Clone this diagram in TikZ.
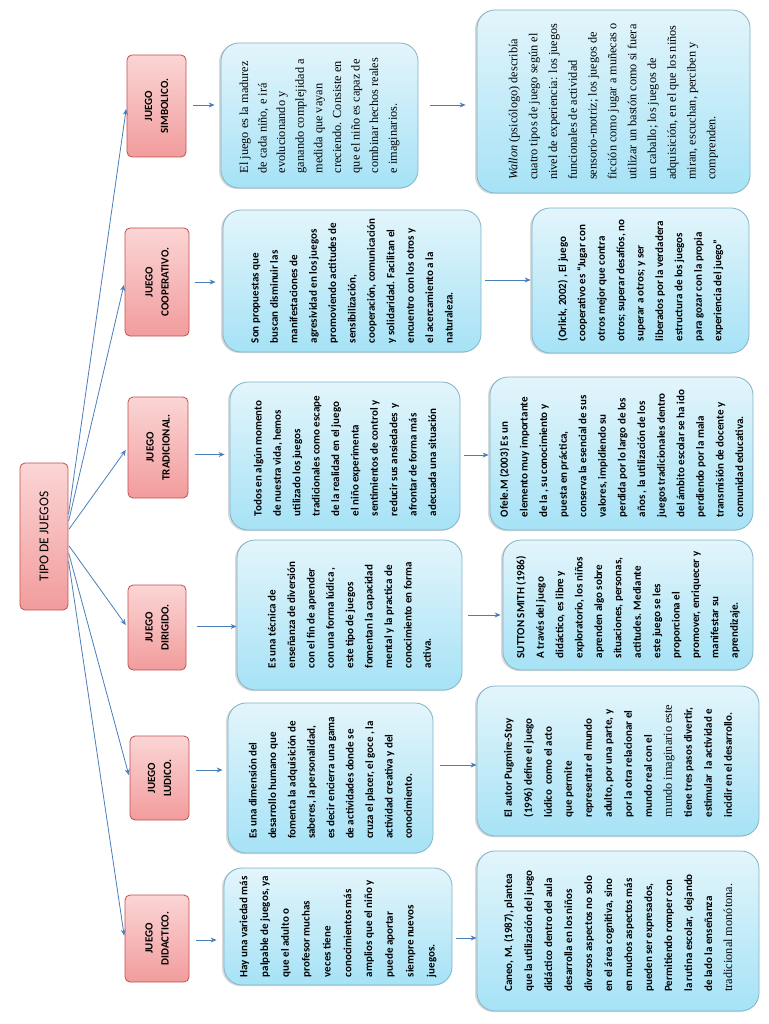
\documentclass[tikz,border=0pt]{standalone}
\usepackage{fontspec}
\setmainfont{Liberation Serif}
\newfontfamily\calibri{Carlito}
\usetikzlibrary{arrows.meta,shadows}

\definecolor{boxedge}{HTML}{7FB3C6}
\definecolor{boxlight}{HTML}{E3F5FB}
\definecolor{boxdeep}{HTML}{A6E2F6}
\definecolor{pinklight}{HTML}{FBD5D5}
\definecolor{pinkdeep}{HTML}{F29C9C}
\definecolor{pinkedge}{HTML}{C0504D}
\definecolor{linkblue}{HTML}{4A7EBB}

\tikzset{
  tipo/.style={rotate=90, draw=pinkedge, line width=0.8pt, rounded corners=5pt,
    top color=pinklight, bottom color=pinkdeep, align=center, inner sep=2pt,
    font=\calibri\bfseries\fontsize{11}{16}\selectfont},
  idea/.style={rotate=90, draw=boxedge, line width=0.8pt, rounded corners=18pt,
    top color=boxlight, bottom color=boxdeep, align=left, inner sep=0pt,
    drop shadow={shadow xshift=-2pt, shadow yshift=-1pt, opacity=.3}},
  sans/.style={font=\calibri\bfseries\fontsize{11}{19.4}\selectfont},
  serif/.style={font=\fontsize{12.3}{18.6}\selectfont},
  link/.style={draw=linkblue, line width=0.8pt, -{Stealth[length=6pt,width=5pt]}},
}

\begin{document}
\begin{tikzpicture}[x=1pt,y=-1pt]
\useasboundingbox (0,0) rectangle (768,1024);

% root and the six kinds of game
\node[tipo, font=\calibri\fontsize{13.5}{15}\selectfont, minimum width=147, minimum height=48] (tipo) at (44,536.5) {TIPO DE JUEGOS};
\node[tipo, minimum width=102, minimum height=59] (c1) at (156.5,106) {JUEGO\\SIMBOLICO.};
\node[tipo, minimum width=108, minimum height=64] (c2) at (157,282) {JUEGO\\COOPERATIVO.};
\node[tipo, minimum width=101, minimum height=60] (c3) at (158,447.5) {JUEGO\\TRADICIONAL.};
\node[tipo, minimum width=85, minimum height=58] (c4) at (157,627.5) {JUEGO\\DIRIGIDO.};
\node[tipo, minimum width=84, minimum height=59] (c5) at (159.5,778) {JUEGO\\LUDICO.};
\node[tipo, minimum width=87, minimum height=64] (c6) at (157,938.5) {JUEGO\\DIDACTICO.};

% definitions
\node[idea, serif, minimum width=145, minimum height=197] (m1) at (319.5,115.5) {El juego es la madurez\\de cada niño, e irá\\evolucionando y\\ganando complejidad a\\medida que vayan\\creciendo. Consiste en\\que el niño es capaz de\\combinar hechos reales\\e imaginarios.};
\node[idea, sans, minimum width=142, minimum height=258] (m2) at (352,281) {Son propuestas que\\buscan disminuir las\\manifestaciones de\\agresividad en los juegos\\promoviendo actitudes de\\sensibilización,\\cooperación, comunicación\\y solidaridad. Facilitan el\\encuentro con los otros y\\el acercamiento a la\\naturaleza.};
\node[idea, sans, minimum width=148, minimum height=230] (m3) at (345,456) {Todos en algún momento\\de nuestra vida, hemos\\utilizado los juegos\\tradicionales como escape\\de la realidad en el juego\\el niño experimenta\\sentimientos de control y\\reducir sus ansiedades \ y\\afrontar de forma más\\adecuada una situación};
\node[idea, sans, minimum width=150, minimum height=225] (m4) at (349.5,615) {Es una técnica de\\enseñanza de diversión\\con el fin de aprender\\con una forma lúdica ,\\este tipo de juegos\\fomentan la capacidad\\mental y la practica de\\conocimiento en forma\\activa.};
\node[idea, sans, minimum width=150, minimum height=205] (m5) at (330.5,778) {Es una dimensión del\\desarrollo humano que\\fomenta la adquisición de\\saberes, la personalidad,\\es decir encierra una gama\\de actividades donde se\\cruza el placer, el goce , la\\actividad creativa y del\\conocimiento.};
\node[idea, sans, font=\calibri\bfseries\fontsize{11}{20.8}\selectfont, minimum width=117, minimum height=228] (m6) at (338,926.5) {Hay una variedad más\\palpable de juegos, ya\\que el adulto o\\profesor muchas\\veces tiene\\conocimientos más\\amplios que el niño y\\puede aportar\\siempre nuevos\\juegos.};

% authors
\node[idea, serif, font=\fontsize{12.3}{19.8}\selectfont, minimum width=183, minimum height=273] (r1) at (613.5,101.5) {\textit{Wallon} (psicólogo) describía\\cuatro tipos de juego según el\\nivel de experiencia: los juegos\\funcionales de actividad\\sensorio-motriz; los juegos de\\ficción como jugar a muñecas o\\utilizar un bastón como si fuera\\un caballo; los juegos de\\adquisición, en el que los niños\\miran, escuchan, perciben y\\comprenden.};
\node[idea, sans, minimum width=145, minimum height=217] (r2) at (640.5,280.5) {(Orlick, 2002) , El juego\\cooperativo es “Jugar con\\otros mejor que contra\\otros; superar desafíos, no\\superar a otros; y ser\\liberados por la verdadera\\estructura de los juegos\\para gozar con la propia\\experiencia del juego”};
\node[idea, sans, font=\calibri\bfseries\fontsize{11}{19.6}\selectfont, minimum width=153, minimum height=263] (r3) at (621.5,453.5) {Ofele.M (2003) Es un\\elemento muy importante\\de la , su conocimiento y\\puesta en práctica,\\conserva la esencial de sus\\valores, impidiendo su\\perdida por lo largo de los\\años , la utilización de los\\juegos tradicionales dentro\\del ámbito escolar se ha ido\\perdiendo por la mala\\transmisión de docente y\\comunidad educativa.};
\node[idea, sans, minimum width=130, minimum height=250] (r4) at (628,605) {SUTTON SMITH (1986)\\A través del juego\\didáctico, es libre y\\exploratorio, los niños\\aprenden algo sobre\\situaciones, personas,\\actitudes. Mediante\\este juego se les\\proporciona el\\promover, enriquecer y\\manifestar su\\aprendizaje.};
\node[idea, sans, font=\calibri\bfseries\fontsize{11}{20}\selectfont, minimum width=150, minimum height=282] (r5) at (618,761) {El autor Pugmire-Stoy\\(1996) define el juego\\lúdico \ como el acto\\que permite\\representar el mundo\\adulto, por una parte, y\\por la otra relacionar el\\mundo real con el\\\rmfamily\mdseries\fontsize{12.3}{20}\selectfont mundo imaginario este\\tiene tres pasos divertir,\\estimular \ la actividad e\\incidir en el desarrollo.};
\node[idea, sans, font=\calibri\bfseries\fontsize{11}{20}\selectfont, minimum width=160, minimum height=282] (r6) at (618,931) {Caneo, M. (1987), plantea\\que la utilización del juego\\didáctico dentro del aula\\desarrolla en los niños\\diversos aspectos no solo\\en el área cognitiva, sino\\en muchos aspectos más\\pueden ser expresados,\\Permitiendo romper con\\la rutina escolar, \ dejando\\de lado la enseñanza\\\rmfamily\mdseries\fontsize{12.3}{20}\selectfont tradicional monótona.};

% fan from the root
\foreach \b/\s in {c1/21.5, c2/14.5, c3/6.5, c4/-8.5, c5/-15.5, c6/-23.5}
  \draw[link, shorten <=1pt, shorten >=3pt] ([yshift=\s pt]tipo.south) -- (\b.north);

% short arrows, kind -> definition -> author
\foreach \a/\b/\s/\p/\q in {c1/m1/1/7/6, c2/m2/0/6/7, c3/m3/-7/7/5, c4/m4/1/11/0, c5/m5/8/7/5, c6/m6/-1.5/7/7,
    m1/r1/10.5/12/11, m2/r2/1/4/1, m3/r3/1/4/1, m4/r4/0/6/2, m5/r5/13/7/0, m6/r6/-11.5/4/0}
  \draw[link, shorten <=\p pt, shorten >=\q pt] ([yshift=\s pt]\a.south) -- ([yshift=\s pt]\a.south -| \b.north);

\end{tikzpicture}
\end{document}
